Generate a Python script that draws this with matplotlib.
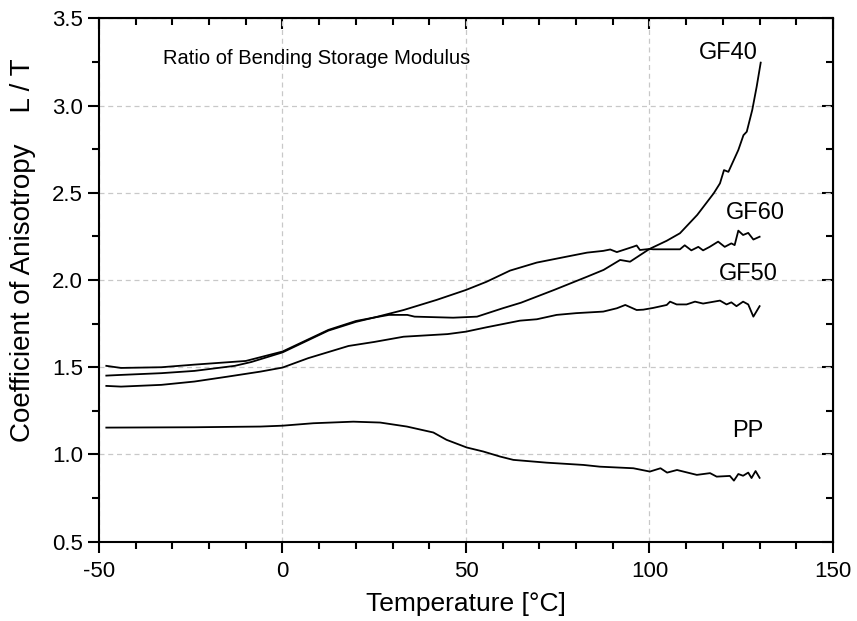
import matplotlib
import matplotlib.pyplot as plt
from matplotlib.ticker import MultipleLocator, FormatStrFormatter

matplotlib.use('Agg')
plt.rcParams['font.family'] = ['Liberation Sans', 'DejaVu Sans']

# Ratio L/T of the bending storage modulus vs. temperature
gf40_t = [-48, -44, -33, -24, -10, 0, 12.5, 20, 25, 29, 34, 36, 46.5, 53, 60, 65, 74,
          83, 87.5, 92, 94.7, 100, 104.7, 108.3, 113, 117.5, 119.2, 120.3, 121.5,
          124.2, 125.6, 126.5, 128, 129.2, 130.3]
gf40_v = [1.508, 1.496, 1.50, 1.515, 1.536, 1.59, 1.714, 1.765, 1.785, 1.80, 1.80, 1.79,
          1.784, 1.79, 1.838, 1.87, 1.943, 2.019, 2.058, 2.115, 2.105, 2.178, 2.225,
          2.268, 2.373, 2.497, 2.554, 2.63, 2.62, 2.745, 2.83, 2.85, 2.975, 3.108, 3.246]

gf60_t = [-48, -44, -33, -24, -13, -8.5, 0, 12.5, 20, 25, 33, 42, 50, 55.6, 62, 69.3,
          78.4, 83, 87.4, 89.3, 91.1, 95.6, 96.5, 97.4, 100, 101, 108.3, 109.6, 111.4,
          113.3, 114.6, 116.4, 118.7, 120.5, 122.3, 123.2, 124.2, 125.5, 126.9, 128.3, 130]
gf60_v = [1.452, 1.456, 1.466, 1.479, 1.508, 1.53, 1.585, 1.71, 1.76, 1.785, 1.828,
          1.886, 1.943, 1.99, 2.054, 2.10, 2.138, 2.157, 2.167, 2.175, 2.16, 2.191, 2.198,
          2.172, 2.178, 2.176, 2.176, 2.199, 2.17, 2.19, 2.17, 2.19, 2.22, 2.19, 2.21,
          2.20, 2.283, 2.258, 2.27, 2.232, 2.248]

gf50_t = [-48, -44, -33, -24, -15, -6, 0, 7, 18, 25, 33, 45, 50, 55.6, 64.7, 69.3, 74.7,
          80, 87.4, 91.1, 93.4, 96.5, 98.3, 101, 104.7, 105.6, 107.4, 110.1, 112.4,
          114.6, 119.2, 121, 122.3, 123.7, 125.5, 126.9, 128.3, 130]
gf50_v = [1.393, 1.389, 1.399, 1.418, 1.446, 1.475, 1.498, 1.552, 1.622, 1.645, 1.675,
          1.69, 1.704, 1.729, 1.767, 1.775, 1.80, 1.81, 1.819, 1.838, 1.857, 1.828, 1.83,
          1.84, 1.857, 1.876, 1.86, 1.86, 1.876, 1.865, 1.882, 1.86, 1.872, 1.85, 1.876,
          1.86, 1.79, 1.85]

pp_t = [-48, -24, -6, 0, 8.4, 19.3, 26.6, 33.9, 41.1, 44.7, 50.2, 54.7, 59.3, 62.9, 72,
        82, 86.5, 95.6, 100.1, 103, 104.8, 107.5, 112.9, 116.5, 118.3, 121.9, 123, 124.2,
        125.5, 126.9, 127.8, 128.9, 130]
pp_v = [1.154, 1.156, 1.16, 1.165, 1.179, 1.188, 1.183, 1.16, 1.126, 1.084, 1.04, 1.017,
        0.988, 0.969, 0.953, 0.94, 0.93, 0.921, 0.902, 0.921, 0.896, 0.911, 0.883, 0.893,
        0.873, 0.877, 0.85, 0.888, 0.878, 0.896, 0.865, 0.905, 0.866]

labels = ['GF40', 'GF60', 'GF50', 'PP']
label_pos = [(121.4, 3.30), (128.9, 2.383), (127.0, 2.035), (126.7, 1.135)]

fig = plt.figure(figsize=(8.57, 6.21), dpi=100)
ax = fig.add_axes([0.1155, 0.1277, 0.8565, 0.8428])

for t, v in [(gf40_t, gf40_v), (gf60_t, gf60_v), (gf50_t, gf50_v), (pp_t, pp_v)]:
    ax.plot(t, v, color='black', lw=1.3)

for lab, (x, y) in zip(labels, label_pos):
    ax.text(x, y, lab, fontsize=17, ha='center', va='center')

ax.text(-32.6, 3.27, 'Ratio of Bending Storage Modulus', fontsize=14.5, va='center')

ax.set_xlim(-50, 150)
ax.set_ylim(0.5, 3.5)
ax.xaxis.set_major_locator(MultipleLocator(50))
ax.xaxis.set_minor_locator(MultipleLocator(10))
ax.yaxis.set_major_locator(MultipleLocator(0.5))
ax.yaxis.set_minor_locator(MultipleLocator(0.25))
ax.yaxis.set_major_formatter(FormatStrFormatter('%.1f'))
ax.xaxis.set_major_formatter(FormatStrFormatter('%d'))

ax.grid(True, which='major', color='#c8c8c8', ls=(0, (4, 3)), lw=0.9)
for s in ax.spines.values():
    s.set_linewidth(1.5)
ax.tick_params(which='major', direction='out', length=8, width=1.5, labelsize=16)
ax.tick_params(axis='x', which='major', pad=6)
ax.tick_params(which='minor', direction='out', length=5, width=1.5)

# inward ticks on top and right spines
top = ax.secondary_xaxis('top')
top.xaxis.set_major_locator(MultipleLocator(50))
top.xaxis.set_minor_locator(MultipleLocator(10))
top.tick_params(which='major', direction='in', length=8, width=1.5, labeltop=False)
top.tick_params(which='minor', direction='in', length=5, width=1.5)
right = ax.secondary_yaxis('right')
right.yaxis.set_major_locator(MultipleLocator(0.5))
right.yaxis.set_minor_locator(MultipleLocator(0.25))
right.tick_params(which='major', direction='in', length=8, width=1.5, labelright=False)
right.tick_params(which='minor', direction='in', length=5, width=1.5)

ax.set_xlabel('Temperature [°C]', fontsize=19)
ax.xaxis.set_label_coords(0.5, -0.096)
ax.set_ylabel('Coefficient of Anisotropy    L / T', fontsize=20)
ax.yaxis.set_label_coords(-0.104, 0.557)
ax.yaxis.label.set_va('center')

fig.savefig('out.png', dpi=100)
